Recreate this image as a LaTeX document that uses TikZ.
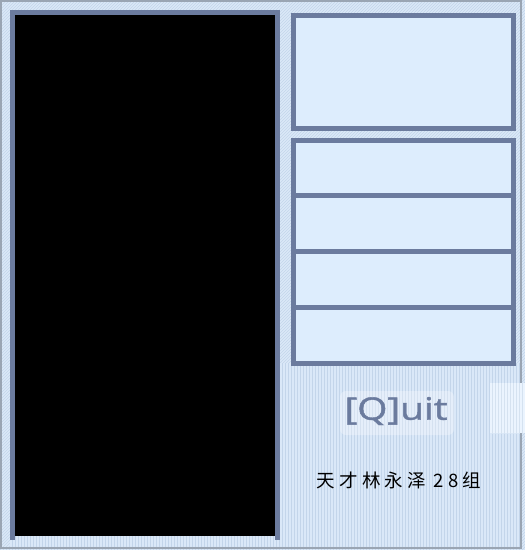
\documentclass[tikz,border=0pt]{standalone}
\usepackage{fontspec}
\usetikzlibrary{patterns,positioning}
\newfontfamily\quitfont[FakeBold=1.2]{Open Sans}
\newfontfamily\cjk[LetterSpace=22]{Noto Sans CJK SC}
\definecolor{frameblue}{HTML}{6B7B9E}
\definecolor{panelbg}{HTML}{DAE8F8}
\definecolor{hatch}{HTML}{C3D5EA}
\definecolor{slotbg}{HTML}{DDEDFD}
\definecolor{edgegray}{HTML}{9AA5B3}
\tikzset{
	slot/.style={draw=frameblue, line width=5pt, fill=slotbg, inner sep=0pt,
		minimum width=220pt, minimum height=55.75pt, anchor=north west},
	stripes/.style={fill=panelbg, postaction={pattern=vertical lines, pattern color=hatch}},
}

\begin{document}
\begin{tikzpicture}[x=1pt,y=-1pt]
	\useasboundingbox (0,0) rectangle (525,550);
	\fill[panelbg, postaction={pattern=north east lines, pattern color=hatch}] (0,0) rectangle (525,550);
	\fill[stripes] (280,363) rectangle (520,546);
	\fill[stripes] (10,536) rectangle (280,546);
	\draw[edgegray, line width=2pt] (1,1) rectangle (521,547.5);
	\node[fill=black, inner sep=0pt, minimum width=260pt, minimum height=521pt, anchor=north west] (screen) at (15,15) {};
	\draw[frameblue, line width=5pt] (12.5,540) |- (277.5,12.5) -- (277.5,540);
	\node[slot, minimum height=113pt] (info) at (290.5,12.5) {};
	\foreach \i in {0,...,3}
		\node[slot] (slot\i) at (290.5,137.5+55.75*\i) {};
	\fill[slotbg!60!white, postaction={pattern=vertical lines, pattern color=hatch!70}] (490,383) rectangle (525,433);
	\fill[white, opacity=0.3, rounded corners=6pt] (340,391) rectangle (454,435);
	\node[text=frameblue, font=\quitfont\fontsize{31}{31}\selectfont] (quit) at (396,411) {\scalebox{1.25}[1]{[Q]uit}};
	\node[font=\cjk\fontsize{18.5}{18.5}\selectfont] (author) at (399,480) {天才林永泽 28组};
\end{tikzpicture}
\end{document}
